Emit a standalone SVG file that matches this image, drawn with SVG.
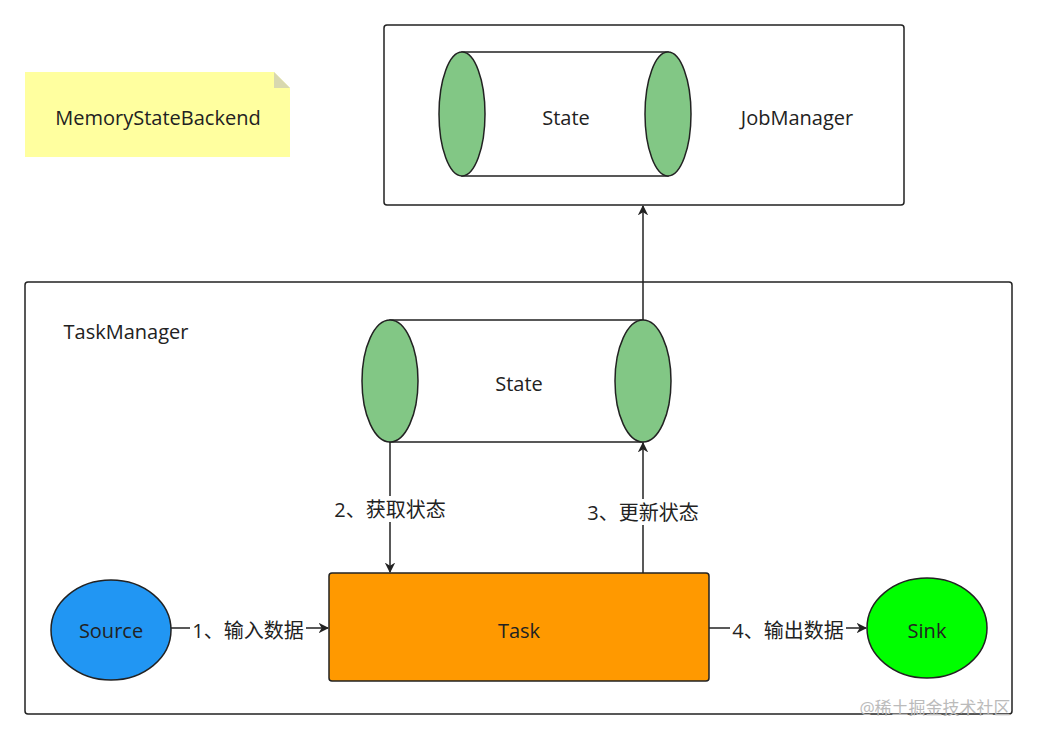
<svg xmlns="http://www.w3.org/2000/svg" width="1037" height="739" viewBox="0 0 1037 739">
<style>
text{font-family:"Open Sans","Noto Sans CJK SC",sans-serif;font-size:20px;fill:#222;text-anchor:middle;dominant-baseline:central}
.box{fill:#fff;stroke:#222;stroke-width:1.5}
.cap{fill:#82c785;stroke:#222;stroke-width:1.5}
.ln{stroke:#222;stroke-width:1.5;fill:none;marker-end:url(#a)}
.lb{fill:#fff}
</style>
<defs><marker id="a" viewBox="0 0 10 10" refX="9" refY="5" markerWidth="7" markerHeight="7" orient="auto"><path d="M0,0L10,5L0,10L3,5z" fill="#222"/></marker></defs>
<rect width="1037" height="739" fill="#fff"/>
<g id="note"><path d="M25,72H274L290,88V157H25z" fill="#ffff9f"/><path d="M274,72V88H290z" fill="#d8d8b0"/><text x="158" y="117">MemoryStateBackend</text></g>
<g id="jobmanager"><rect class="box" x="384" y="25" width="520" height="180" rx="3"/><text x="797" y="117">JobManager</text></g>
<g id="state1"><path class="box" d="M462,52H668V176H462z"/><ellipse class="cap" cx="462" cy="114" rx="23" ry="62"/><ellipse class="cap" cx="668" cy="114" rx="23" ry="62"/><text x="566" y="117">State</text></g>
<g id="taskmanager"><rect class="box" x="25" y="282" width="987" height="432" rx="3"/><text x="126" y="331">TaskManager</text></g>
<g id="state2"><path class="box" d="M390,320H643V442H390z"/><ellipse class="cap" cx="390" cy="381" rx="28" ry="61"/><ellipse class="cap" cx="643" cy="381" rx="28" ry="61"/><text x="519" y="383">State</text></g>
<g id="task"><rect x="329" y="573" width="380" height="108" rx="3" fill="#ff9900" stroke="#222" stroke-width="1.5"/><text x="519" y="630">Task</text></g>
<g id="source"><ellipse cx="111" cy="630" rx="60" ry="50" fill="#2196f3" stroke="#222" stroke-width="1.5"/><text x="111" y="630">Source</text></g>
<g id="sink"><ellipse cx="927" cy="628" rx="60" ry="50" fill="#00ff00" stroke="#222" stroke-width="1.5"/><text x="927" y="630">Sink</text></g>
<g id="connectors">
<path class="ln" d="M643,320V206"/>
<path class="ln" d="M390,442V572"/>
<path class="ln" d="M643,573V443"/>
<path class="ln" d="M171,628H328"/>
<path class="ln" d="M709,628H866"/>
<rect class="lb" x="332" y="496" width="116" height="26"/><text x="390" y="509">2、获取状态</text>
<rect class="lb" x="585" y="499" width="116" height="26"/><text x="643" y="512">3、更新状态</text>
<rect class="lb" x="190" y="617" width="116" height="26"/><text x="248" y="630">1、输入数据</text>
<rect class="lb" x="730" y="617" width="116" height="26"/><text x="788" y="630">4、输出数据</text>
</g>
<text x="935" y="707" style="font-size:17px;fill:#bbb">@稀土掘金技术社区</text>
</svg>
